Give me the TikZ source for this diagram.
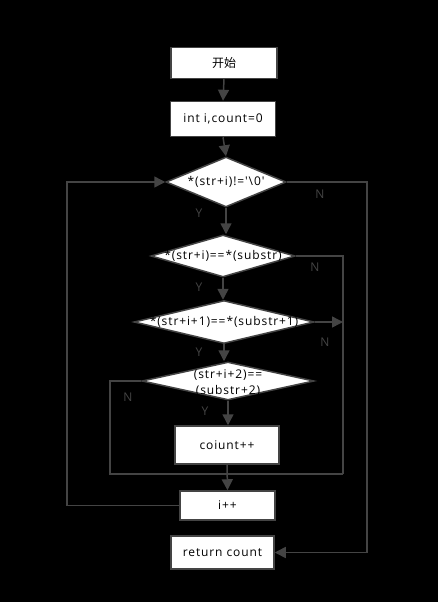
\documentclass[tikz,border=0pt]{standalone}
\usepackage{fontspec}
\newfontfamily\of[Ligatures=TeXOff,LetterSpace=7.5]{Open Sans}
\newfontfamily\cjk{Noto Sans CJK SC}
\usetikzlibrary{shapes.geometric,arrows.meta}
\definecolor{ln}{HTML}{444444}
\tikzset{
  box/.style={draw=ln,line width=1.5pt,fill=white,inner sep=0pt},
  dia/.style={diamond,draw=ln,line width=1.5pt,fill=white,inner sep=0pt},
  txt/.style={font=\of\fontsize{12}{14}\selectfont,text=black,align=center,inner sep=0pt},
  yn/.style={font=\of\fontsize{12}{14}\selectfont,text=ln,inner sep=0pt},
  conn/.style={draw=ln,line width=1.5pt},
  arr/.style={conn,-{Triangle[length=11pt,width=11pt]}}
}
\begin{document}
\begin{tikzpicture}[x=1pt,y=-1pt]
\fill[black] (0,0) rectangle (438,602);
\useasboundingbox (0,0) rectangle (438,602);
% boxes
\node[box,minimum width=106pt,minimum height=31pt] (start) at (224,63) {};
\node[txt] at (start) {\cjk 开始};
\node[box,minimum width=105pt,minimum height=35pt] (init) at (223,119) {};
\node[txt] at (init) {int i,count=0};
\node[dia,minimum width=120pt,minimum height=50pt] (d1) at (226,182) {};
\node[txt] at (d1) {*(str+i)!='\textbackslash 0'};
\node[dia,minimum width=144pt,minimum height=42pt] (d2) at (223,256) {};
\node[txt] at (d2) {*(str+i)==*(substr)};
\node[dia,minimum width=180pt,minimum height=43pt] (d3) at (224,322) {};
\node[txt] at (d3) {*(str+i+1)==*(substr+1)};
\node[dia,minimum width=172pt,minimum height=38pt] (d4) at (228,381) {};
\node[txt,font=\of\fontsize{12}{16}\selectfont] at ([yshift=-2pt]d4) {(str+i+2)==\\(substr+2)};
\node[box,minimum width=104pt,minimum height=38pt] (cnt) at (227,445) {};
\node[txt] at (cnt) {coiunt++};
\node[box,minimum width=95pt,minimum height=29pt] (inc) at (227.5,505.5) {};
\node[txt] at (inc) {i++};
\node[box,minimum width=103pt,minimum height=33pt] (ret) at (222.5,552.5) {};
\node[txt] at (ret) {return count};
% coordinates
\coordinate (lx) at (67,505.5);
\coordinate (rx) at (367,182);
\coordinate (mx) at (343,256);
\coordinate (bx) at (110,381);
\coordinate (by) at (110,474);
\coordinate (my) at (343,474);
% connectors
\draw[arr] (start.south) -- (init.north);
\draw[arr] (init.south) -- (d1.north);
\draw[arr] (d1.south) -- (d1.south |- d2.north);
\draw[arr] (d2.south) -- (d2.south |- d3.north);
\draw[arr] (d3.south) -- (d3.south |- d4.north);
\draw[arr] (d4.south) -- (d4.south |- cnt.north);
\draw[arr] (cnt.south) -- (inc.north);
\draw[arr] (inc.west) -- (lx) |- (d1.west);
\draw[arr] (d1.east) -- (rx) |- (ret.east);
\draw[conn] (d2.east) -- (mx) -- (my);
\draw[arr] (d3.east) -- (d3.east -| mx);
\draw[conn] (d4.west) -- (bx) -- (by) -- (my);
% labels
\node[yn] at (199,213) {Y};
\node[yn] at (320,194) {N};
\node[yn] at (199,287) {Y};
\node[yn] at (315,267) {N};
\node[yn] at (199,352) {Y};
\node[yn] at (325,342) {N};
\node[yn] at (205,411) {Y};
\node[yn] at (128,397) {N};
\end{tikzpicture}
\end{document}
